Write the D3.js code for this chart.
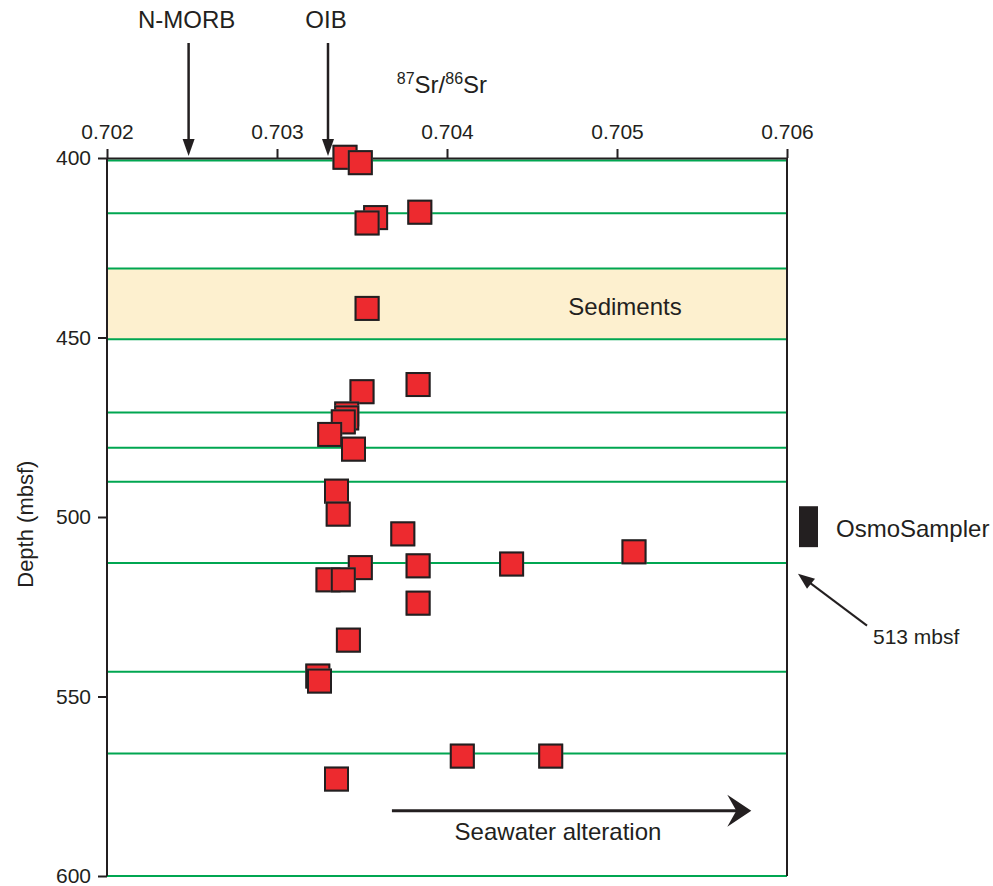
<!DOCTYPE html>
<html>
<head>
<meta charset="utf-8">
<script src="https://cdn.jsdelivr.net/npm/d3@7"></script>
<style>
  body { margin: 0; background: #fff; }
  text { font-family: "Liberation Sans", Arial, sans-serif; fill: #231f20; }
</style>
</head>
<body>
<div id="chart"></div>
<script>
// 87Sr/86Sr of basalt samples vs depth (mbsf)
var srRatio = [0.70340, 0.70349, 0.70358, 0.70353, 0.70384, 0.70353, 0.70383, 0.70350,
    0.70341, 0.70341, 0.70339, 0.70331, 0.70345, 0.70335, 0.70336, 0.70374,
    0.70510, 0.70438, 0.70383, 0.70349, 0.70330, 0.70339, 0.70383, 0.70342,
    0.70324, 0.70325, 0.70409, 0.70461, 0.70335];
var depth = [399.8, 401.3, 416.6, 418.1, 415.1, 441.9, 463.1, 465.1,
    471.3, 472.4, 473.5, 477.0, 481.1, 492.8, 499.2, 504.7,
    509.7, 513.1, 513.6, 514.1, 517.5, 517.5, 524.0, 534.3,
    544.3, 545.7, 566.6, 566.6, 573.0];

// horizontal (green) horizon lines, depth in mbsf
var horizons = [400.7, 415.4, 430.8, 450.5, 470.9, 480.7, 490.2, 512.8, 543.1, 565.9, 600];
var sediments = [430.8, 450.5];
var osmoSampler = [497, 508.4];

var xTicks = [0.702, 0.703, 0.704, 0.705, 0.706];
var yTicks = [400, 450, 500, 550, 600];

var refs = [
    { name: 'N-MORB', value: 0.70248 },
    { name: 'OIB', value: 0.70330 }
];

var svg = d3.select('#chart').append('svg').attr('width', 993).attr('height', 886);

var margin = { top: 158, left: 107 };
var width = 680;
var height = 718;

var chart = svg.append('g')
    .attr('transform', `translate(${margin.left}, ${margin.top})`);

var xScale = d3.scaleLinear().domain([0.702, 0.706]).range([0, width]);
var yScale = d3.scaleLinear().domain([400, 600]).range([0, height]);

// sediment band
chart.append('rect')
    .attr('x', 0)
    .attr('width', width)
    .attr('y', yScale(sediments[0]))
    .attr('height', yScale(sediments[1]) - yScale(sediments[0]))
    .attr('fill', '#fdf0cf');

chart.selectAll('.horizon')
    .data(horizons)
    .enter()
    .append('line')
    .attr('class', 'horizon')
    .attr('x1', 0)
    .attr('x2', width)
    .attr('y1', (d) => yScale(d))
    .attr('y2', (d) => yScale(d))
    .attr('stroke', '#00a651')
    .attr('stroke-width', 2);

// axes
var xAxis = chart.append('g')
    .call(d3.axisTop(xScale).tickValues(xTicks).tickFormat(d3.format('.3f')).tickSize(9).tickSizeOuter(0));
var yAxis = chart.append('g')
    .call(d3.axisLeft(yScale).tickValues(yTicks).tickSize(9).tickSizeOuter(0));

[xAxis, yAxis].forEach((ax) => {
    ax.select('.domain').attr('stroke', '#231f20').attr('stroke-width', 2);
    ax.selectAll('.tick line').attr('stroke', '#231f20').attr('stroke-width', 2);
    ax.selectAll('.tick text')
        .style('font-family', '"Liberation Sans", Arial, sans-serif')
        .style('font-size', '21px')
        .attr('fill', '#231f20');
});
xAxis.selectAll('.tick text').attr('dy', '-0.35em');
yAxis.select('.domain').attr('d', `M0,0V${yScale(600)}`);
yAxis.selectAll('.tick text').attr('x', -16);

// right border
chart.append('line')
    .attr('x1', xScale(0.706)).attr('x2', xScale(0.706))
    .attr('y1', 0).attr('y2', yScale(600))
    .attr('stroke', '#231f20').attr('stroke-width', 2);

// data squares
var pts = srRatio.map((v, i) => ({ x: v, y: depth[i] }));
var s = 23;
chart.selectAll('.sample')
    .data(pts)
    .enter()
    .append('rect')
    .attr('class', 'sample')
    .attr('x', (d) => xScale(d.x) - s / 2)
    .attr('y', (d) => yScale(d.y) - s / 2)
    .attr('width', s)
    .attr('height', s)
    .attr('fill', '#ed2a2f')
    .attr('stroke', '#231f20')
    .attr('stroke-width', 2)
    .style('filter', 'drop-shadow(0 0 0.6px #888)');

// reference arrows on top
refs.forEach((r) => {
    var x = xScale(r.value);
    chart.append('line')
        .attr('x1', x).attr('x2', x)
        .attr('y1', -115).attr('y2', -16)
        .attr('stroke', '#231f20').attr('stroke-width', 2.5);
    chart.append('path')
        .attr('d', `M${x - 6},-19L${x + 6},-19L${x},-2Z`)
        .attr('fill', '#231f20');
    chart.append('text')
        .attr('x', x - 2)
        .attr('y', -130)
        .attr('text-anchor', 'middle')
        .style('font-size', '24px')
        .text(r.name);
});

// axis title (top)
var title = chart.append('text')
    .attr('x', xScale(0.70397))
    .attr('y', -65)
    .attr('text-anchor', 'middle')
    .style('font-size', '24px');
title.append('tspan').attr('dy', '-9').style('font-size', '16px').text('87');
title.append('tspan').attr('dy', '9').text('Sr/');
title.append('tspan').attr('dy', '-9').style('font-size', '16px').text('86');
title.append('tspan').attr('dy', '9').text('Sr');

svg.append('text')
    .attr('transform', `translate(33, ${margin.top + yScale(502)}) rotate(-90)`)
    .attr('text-anchor', 'middle')
    .style('font-size', '22px')
    .text('Depth (mbsf)');

chart.append('text')
    .attr('x', xScale(0.705047))
    .attr('y', yScale(441.5) + 8)
    .attr('text-anchor', 'middle')
    .style('font-size', '24px')
    .text('Sediments');

// seawater alteration arrow
var ay = yScale(581.8);
chart.append('line')
    .attr('x1', xScale(0.703676)).attr('x2', xScale(0.70574))
    .attr('y1', ay).attr('y2', ay)
    .attr('stroke', '#231f20').attr('stroke-width', 3);
var ax = xScale(0.70579);
chart.append('path')
    .attr('d', `M${ax},${ay}L${ax - 24},${ay - 16}L${ax - 15},${ay}L${ax - 24},${ay + 16}Z`)
    .attr('fill', '#231f20');
chart.append('text')
    .attr('x', xScale(0.704653))
    .attr('y', ay + 29)
    .attr('text-anchor', 'middle')
    .style('font-size', '24px')
    .text('Seawater alteration');

// OsmoSampler
chart.append('rect')
    .attr('x', width + 12)
    .attr('width', 19)
    .attr('y', yScale(osmoSampler[0]))
    .attr('height', yScale(osmoSampler[1]) - yScale(osmoSampler[0]))
    .attr('fill', '#231f20');
chart.append('text')
    .attr('x', width + 49)
    .attr('y', yScale(503) + 9)
    .style('font-size', '24px')
    .text('OsmoSampler');

// 513 mbsf pointer
var tipY = yScale(513) + 10;
chart.append('line')
    .attr('x1', width + 80).attr('x2', width + 20)
    .attr('y1', tipY + 52).attr('y2', tipY + 7)
    .attr('stroke', '#231f20').attr('stroke-width', 2);
chart.append('path')
    .attr('d', `M${width + 11},${tipY}L${width + 28},${tipY + 5}L${width + 20},${tipY + 15}Z`)
    .attr('fill', '#231f20');
chart.append('text')
    .attr('x', width + 86)
    .attr('y', tipY + 70)
    .style('font-size', '21px')
    .text('513 mbsf');
</script>
</body>
</html>
